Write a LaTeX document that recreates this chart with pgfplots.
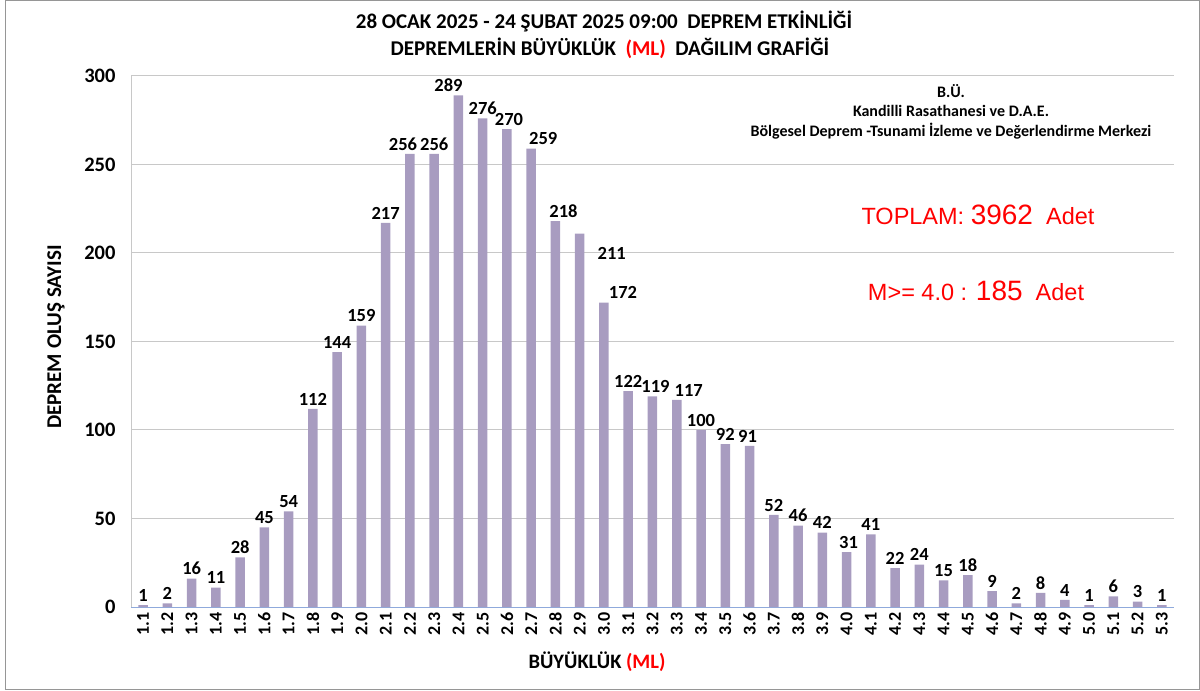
\documentclass[border=0pt]{standalone}
\usepackage{pgfplots}
\pgfplotsset{compat=1.18}
\usepackage{pgfplotstable}
\usepackage{fontspec}
\setmainfont{Carlito}
\newfontfamily\arial{Liberation Sans}
\definecolor{barc}{RGB}{168,156,192}
\definecolor{gridc}{RGB}{200,200,200}
\definecolor{axisb}{RGB}{143,170,220}
\definecolor{frame}{RGB}{150,150,150}

\pgfplotstableread{
x y dx dy
0 1 0 0
1 2 0 0
2 16 0 0
3 11 0 0
4 28 0 0
5 45 0 0
6 54 0 0
7 112 0 0
8 144 0 0
9 159 0 0
10 217 0 0
11 256 -7 0
12 256 0 0
13 289 -10 0
14 276 0 0
15 270 2 0
16 259 12 0
17 218 8 0
18 211 32 -30
19 172 19 0
20 122 0 0
21 119 3 0
22 117 12 0
23 100 0 0
24 92 0 0
25 91 -2 0
26 52 0 0
27 46 0 0
28 42 0 0
29 31 2 0
30 41 0 0
31 22 0 0
32 24 0 0
33 15 0 0
34 18 0 0
35 9 0 0
36 2 0 0
37 8 0 0
38 4 0 0
39 1 0 0
40 6 0 0
41 3 0 0
42 1 0 0
}\datatab

\begin{document}
\begin{tikzpicture}[x=1pt,y=1pt]
\path[use as bounding box] (0,0) rectangle (1200,691);
\draw[frame, line width=1pt] (5.5,1) rectangle (1199.5,690);
\begin{axis}[
  at={(131pt,84pt)}, anchor=south west,
  scale only axis, width=1043pt, height=531pt,
  xmin=-0.5, xmax=42.5, ymin=0, ymax=300,
  ytick={0,50,...,300},
  xtick={0,...,42},
  xticklabels={1.1,1.2,1.3,1.4,1.5,1.6,1.7,1.8,1.9,2.0,2.1,2.2,2.3,2.4,2.5,2.6,2.7,2.8,2.9,3.0,3.1,3.2,3.3,3.4,3.5,3.6,3.7,3.8,3.9,4.0,4.1,4.2,4.3,4.4,4.5,4.6,4.7,4.8,4.9,5.0,5.1,5.2,5.3},
  axis x line*=bottom, axis y line*=left,
  x axis line style={axisb, line width=1pt},
  y axis line style={gridc, line width=1pt},
  ymajorgrids, grid style={gridc, line width=1pt},
  major tick length=0pt,
  /pgf/number format/assume math mode=true,
  x tick label style={rotate=90, anchor=east, font=\bfseries\fontsize{18}{18}\selectfont, xshift=-2pt},
  y tick label style={anchor=east, font=\bfseries\fontsize{20.5}{20.5}\selectfont, xshift=-12pt},
  ybar, bar width=9.5pt, bar shift=0pt,
  nodes near coords,
  visualization depends on={\thisrow{dx} \as \dx},
  visualization depends on={\thisrow{dy} \as \dy},
  every node near coord/.append style={font=\bfseries\fontsize{18.5}{18.5}\selectfont, xshift=\dx pt, yshift=\dy pt, black, inner sep=3.5pt},
]
\addplot[fill=barc, draw=none] table[x=x, y=y] {\datatab};
\end{axis}
% titles
\node[font=\bfseries\fontsize{21}{21}\selectfont] at (604,670) {28 OCAK 2025 - 24 ŞUBAT 2025 09:00 \ DEPREM ETKİNLİĞİ};
\node[font=\bfseries\fontsize{21}{21}\selectfont] at (610,643) {DEPREMLERİN BÜYÜKLÜK \ {\color{red}(ML)} \ DAĞILIM GRAFİĞİ};
% axis labels
\node[font=\bfseries\fontsize{21}{21}\selectfont, rotate=90] at (56,354) {DEPREM OLUŞ SAYISI};
\node[font=\bfseries\fontsize{20.5}{20.5}\selectfont] at (597,29) {BÜYÜKLÜK {\color{red}(ML)}};
% institution
\node[font=\bfseries\fontsize{16}{16}\selectfont] at (951,600) {B.Ü.};
\node[font=\bfseries\fontsize{16}{16}\selectfont] at (951,580) {Kandilli Rasathanesi ve D.A.E.};
\node[font=\bfseries\fontsize{16}{16}\selectfont] at (951,560) {Bölgesel Deprem -Tsunami İzleme ve Değerlendirme Merkezi};
% totals
\node[text=red, font=\arial\fontsize{23.5}{23.5}\selectfont] at (978,476) {TOPLAM: {\fontsize{28}{28}\selectfont 3962} \ Adet};
\node[text=red, font=\arial\fontsize{23.5}{23.5}\selectfont] at (976,400) {M>= 4.0 : {\fontsize{28}{28}\selectfont 185} \ Adet};
\end{tikzpicture}
\end{document}
